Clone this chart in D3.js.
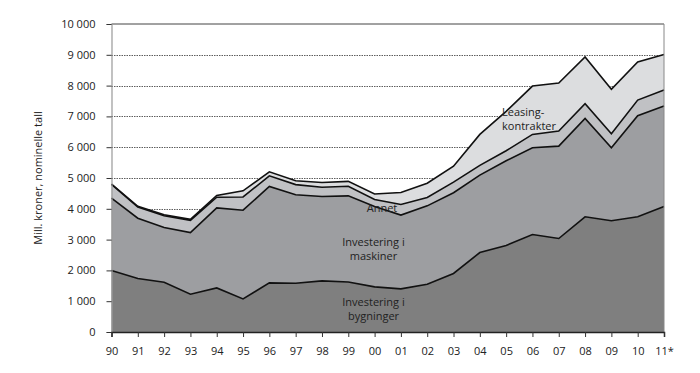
<!DOCTYPE html>
<html lang="no">
<head>
    <meta charset="UTF-8">
    <title>Investeringer</title>
    <script src="https://cdnjs.cloudflare.com/ajax/libs/d3/7.8.5/d3.min.js"></script>
    <style type="text/css">
        body {
            margin: 0;
            background: #fff;
        }
        text {
            font-family: 'Open Sans', 'DejaVu Sans', sans-serif;
            fill: #222;
        }
    </style>
</head>
<body>
<div class="container"></div>
<script>
    const years = ['90', '91', '92', '93', '94', '95', '96', '97', '98', '99', '00',
        '01', '02', '03', '04', '05', '06', '07', '08', '09', '10', '11*'];

    const bygninger = [2000, 1735, 1615, 1225, 1430, 1075, 1595, 1585, 1660, 1625, 1465,
        1400, 1550, 1900, 2580, 2810, 3165, 3035, 3740, 3610, 3740, 4075];
    const maskiner = [2350, 1960, 1780, 2005, 2600, 2880, 3130, 2870, 2740, 2795, 2610,
        2395, 2545, 2620, 2515, 2750, 2815, 3000, 3195, 2370, 3280, 3260];
    const annet = [440, 360, 380, 395, 345, 430, 345, 330, 300, 310, 225,
        345, 275, 345, 315, 325, 435, 490, 475, 455, 510, 520];
    const leasing = [15, 25, 30, 35, 60, 200, 130, 125, 155, 160, 180,
        390, 460, 520, 1005, 1280, 1570, 1560, 1520, 1445, 1235, 1155];

    const yTicks = [0, 1000, 2000, 3000, 4000, 5000, 6000, 7000, 8000, 9000, 10000];
    const keys = ['bygninger', 'maskiner', 'annet', 'leasing'];
    const colors = ['#7f7f7f', '#9d9ea1', '#c0c1c4', '#dcdddf'];

    const rows = years.map((y, i) => ({
        year: y,
        bygninger: bygninger[i],
        maskiner: maskiner[i],
        annet: annet[i],
        leasing: leasing[i]
    }));

    const width = 700;
    const height = 373;
    const margin = {left: 111.5, right: 36, top: 24, bottom: 41};

    const svg = d3.select('.container')
        .append('svg')
        .attr('width', width)
        .attr('height', height);

    const xScale = d3.scalePoint()
        .domain(years)
        .range([margin.left, width - margin.right]);

    const yScale = d3.scaleLinear()
        .domain([0, 10000])
        .range([height - margin.bottom, margin.top]);

    // dotted grid
    svg.append('g')
        .selectAll('line')
        .data(yTicks.slice(1, -1))
        .enter()
        .append('line')
        .attr('x1', margin.left)
        .attr('x2', width - margin.right)
        .attr('y1', d => Math.round(yScale(d)) + 0.5)
        .attr('y2', d => Math.round(yScale(d)) + 0.5)
        .attr('stroke', '#333')
        .attr('stroke-width', 0.8)
        .attr('stroke-dasharray', '1.5,1');

    const stack = d3.stack().keys(keys);
    const series = stack(rows);

    const area = d3.area()
        .x(d => xScale(d.data.year))
        .y0(d => yScale(d[0]))
        .y1(d => yScale(d[1]));

    const line = d3.line()
        .x(d => xScale(d.data.year))
        .y(d => yScale(d[1]));

    svg.append('g')
        .selectAll('path')
        .data(series)
        .enter()
        .append('path')
        .attr('fill', (d, i) => colors[i])
        .attr('d', area);

    svg.append('g')
        .selectAll('path')
        .data(series)
        .enter()
        .append('path')
        .attr('fill', 'none')
        .attr('stroke', '#111')
        .attr('stroke-width', 1.6)
        .attr('d', line);

    // frame: top and right
    const x0 = margin.left;
    const x1 = width - margin.right;
    svg.append('line')
        .attr('x1', x0).attr('x2', x1)
        .attr('y1', yScale(10000)).attr('y2', yScale(10000))
        .attr('stroke', '#444').attr('stroke-width', 1);
    svg.append('line')
        .attr('x1', x1).attr('x2', x1)
        .attr('y1', yScale(10000)).attr('y2', yScale(0))
        .attr('stroke', '#888').attr('stroke-width', 1);

    // y axis
    const yAxis = d3.axisLeft(yScale)
        .tickValues(yTicks)
        .tickSize(5)
        .tickPadding(11)
        .tickFormat(d => d3.format(',')(d).replace(',', ' '));

    const gy = svg.append('g')
        .attr('transform', 'translate(' + x0 + ',0)')
        .call(yAxis);
    gy.select('.domain').attr('stroke', '#999').attr('stroke-width', 1.2);
    gy.selectAll('.tick line').attr('stroke', '#333');
    gy.selectAll('.tick text').attr('font-size', 11).attr('fill', '#222')
        .attr('font-family', "'Open Sans', sans-serif");

    // x axis
    const xAxis = d3.axisBottom(xScale)
        .tickSize(5)
        .tickPadding(10);

    const gx = svg.append('g')
        .attr('transform', 'translate(0,' + yScale(0) + ')')
        .call(xAxis);
    gx.select('.domain').attr('stroke', '#222').attr('stroke-width', 1.5);
    gx.selectAll('.tick line').attr('stroke', '#333');
    gx.selectAll('.tick text').attr('font-size', 11).attr('fill', '#222')
        .attr('font-family', "'Open Sans', sans-serif");

    svg.append('text')
        .attr('transform', 'translate(42,' + yScale(5000) + ') rotate(-90)')
        .attr('text-anchor', 'middle')
        .attr('font-size', 11)
        .text('Mill. kroner, nominelle tall');

    // series labels, one text element per line
    const labels = [
        {lines: ['Investering i', 'maskiner'], x: 373.5, y: 242, anchor: 'middle'},
        {lines: ['Investering i', 'bygninger'], x: 373.5, y: 302, anchor: 'middle'},
        {lines: ['Annet'], x: 382, y: 208, anchor: 'middle'},
        {lines: ['Leasing-', 'kontrakter'], x: 502, y: 112.5, anchor: 'start'}
    ];

    labels.forEach(l => {
        svg.append('g')
            .selectAll('text')
            .data(l.lines)
            .enter()
            .append('text')
            .attr('text-anchor', l.anchor)
            .attr('font-size', 11)
            .attr('x', l.x)
            .attr('y', (d, i) => l.y + i * 14)
            .attr('dy', '0.35em')
            .text(d => d);
    });
</script>
</body>
</html>
